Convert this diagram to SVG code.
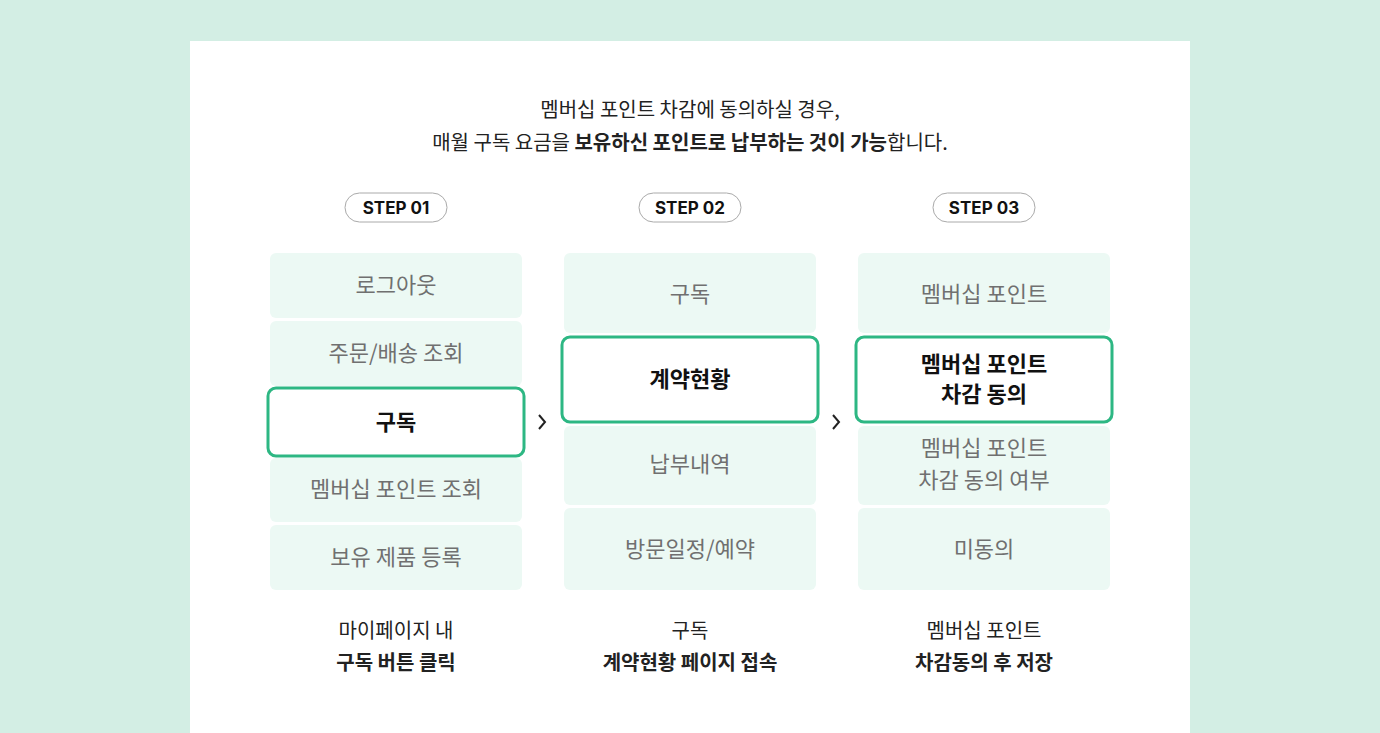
<svg xmlns="http://www.w3.org/2000/svg" width="1380" height="733" viewBox="0 0 1380 733">
<style>
text{font-family:"Noto Sans CJK KR","Noto Sans",sans-serif;text-anchor:middle}
.c{fill:#ecf9f4}
.t{font-size:22px;fill:#707070}
.h{fill:#fff;stroke:#2db783;stroke-width:3}
.b{font-size:22px;font-weight:700;fill:#111}
.p{fill:#fff;stroke:#aaa;stroke-width:1}
.s{font-family:Inter,"Noto Sans",sans-serif;font-size:17px;font-weight:700;fill:#111}
.f{font-size:20px;fill:#222}
.fb{font-size:20px;font-weight:700;fill:#222}
.a{fill:none;stroke:#222;stroke-width:2}
</style>
<rect width="1380" height="733" fill="#d3eee4"/>
<rect x="190" y="41" width="1000" height="700" fill="#fff"/>
<text x="690" y="117" class="f">멤버십 포인트 차감에 동의하실 경우,</text>
<text x="690" y="150" class="f">매월 구독 요금을 <tspan font-weight="700">보유하신 포인트로 납부하는 것이 가능</tspan>합니다.</text>
<g id="step1">
<rect x="345" y="193" width="102" height="29" rx="14.5" class="p"/><text x="396" y="214" class="s">STEP 01</text>
<rect x="270" y="253" width="252" height="65" rx="6" class="c"/><text x="396" y="293" class="t">로그아웃</text>
<rect x="270" y="321" width="252" height="65" rx="6" class="c"/><text x="396" y="361" class="t">주문/배송 조회</text>
<rect x="270" y="458" width="252" height="64" rx="6" class="c"/><text x="396" y="497" class="t">멤버십 포인트 조회</text>
<rect x="270" y="525" width="252" height="65" rx="6" class="c"/><text x="396" y="565" class="t">보유 제품 등록</text>
<rect x="268" y="388" width="256" height="68" rx="8" class="h"/><text x="396" y="430" class="b">구독</text>
<text x="396" y="638" class="f">마이페이지 내</text><text x="396" y="670" class="fb">구독 버튼 클릭</text>
</g>
<g id="step2">
<rect x="639" y="193" width="102" height="29" rx="14.5" class="p"/><text x="690" y="214" class="s">STEP 02</text>
<rect x="564" y="253" width="252" height="80" rx="6" class="c"/><text x="690" y="302" class="t">구독</text>
<rect x="564" y="426" width="252" height="79" rx="6" class="c"/><text x="690" y="472" class="t">납부내역</text>
<rect x="564" y="508" width="252" height="82" rx="6" class="c"/><text x="690" y="557" class="t">방문일정/예약</text>
<rect x="562" y="337" width="256" height="85" rx="8" class="h"/><text x="690" y="387" class="b">계약현황</text>
<text x="690" y="638" class="f">구독</text><text x="690" y="670" class="fb">계약현황 페이지 접속</text>
</g>
<g id="step3">
<rect x="933" y="193" width="102" height="29" rx="14.5" class="p"/><text x="984" y="214" class="s">STEP 03</text>
<rect x="858" y="253" width="252" height="80" rx="6" class="c"/><text x="984" y="302" class="t">멤버십 포인트</text>
<rect x="858" y="426" width="252" height="79" rx="6" class="c"/><text x="984" y="456" class="t">멤버십 포인트</text><text x="984" y="488" class="t">차감 동의 여부</text>
<rect x="858" y="508" width="252" height="82" rx="6" class="c"/><text x="984" y="557" class="t">미동의</text>
<rect x="856" y="337" width="256" height="85" rx="8" class="h"/><text x="984" y="372" class="b">멤버십 포인트</text><text x="984" y="402" class="b">차감 동의</text>
<text x="984" y="638" class="f">멤버십 포인트</text><text x="984" y="670" class="fb">차감동의 후 저장</text>
</g>
<g id="connectors">
<path d="M539 415l6 7-6 7" class="a"/>
<path d="M833 415l6 7-6 7" class="a"/>
</g>
</svg>
